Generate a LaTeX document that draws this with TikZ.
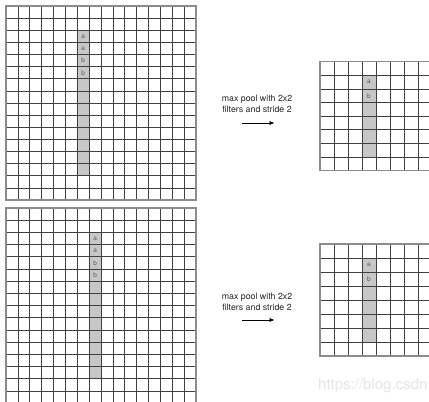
\documentclass[tikz,border=0pt]{standalone}
\usepackage{fontspec}
\setmainfont{TeX Gyre Heros}
\usetikzlibrary{arrows.meta}
\tikzset{
  gridline/.style={draw=black!75, line width=0.7pt},
  gridborder/.style={draw=black!45, line width=1.4pt},
  shadecell/.style={fill=black!22, draw=none},
  celllabel/.style={font=\fontsize{6.5}{7}\selectfont, text=black!65, inner sep=0pt},
  caption/.style={font=\fontsize{8.8}{11.5}\selectfont, align=center, text=black!85, inner sep=0pt},
  poolarrow/.style={draw=black, line width=0.7pt, -{Triangle[length=4.5pt,width=3.8pt]}},
  watermark/.style={font=\fontsize{15}{16}\selectfont, text=black!10, inner sep=0pt, anchor=west}
}
% #1 x0, #2 y0, #3 cell width, #4 cell height, #5 columns, #6 rows
\newcommand{\mygrid}[6]{%
  \foreach \i in {0,...,#5} \draw[gridline] ({#1+\i*#3},#2) -- ({#1+\i*#3},{#2+#6*#4});
  \foreach \j in {0,...,#6} \draw[gridline] (#1,{#2+\j*#4}) -- ({#1+#5*#3},{#2+\j*#4});
  \draw[gridborder] (#1,#2) rectangle ({#1+#5*#3},{#2+#6*#4});
}
\begin{document}
\begin{tikzpicture}[x=1pt,y=-1pt]
\useasboundingbox (0,0) rectangle (429,402);
\clip (0,0) rectangle (429,402);
\fill[white] (0,0) rectangle (429,402);

% ---------- top-left 16x16 input ----------
\fill[shadecell] ({6+6*11.875},{6+2*12.125}) rectangle ({6+7*11.875},{6+14*12.125});
\mygrid{6}{6}{11.875}{12.125}{16}{16}
\node[celllabel] (tla1) at ({6+6.5*11.875},{6+2.5*12.125}) {a};
\node[celllabel] (tla2) at ({6+6.5*11.875},{6+3.5*12.125}) {a};
\node[celllabel] (tlb1) at ({6+6.5*11.875},{6+4.5*12.125}) {b};
\node[celllabel] (tlb2) at ({6+6.5*11.875},{6+5.5*12.125}) {b};

% ---------- bottom-left 16x16 input ----------
\fill[shadecell] ({6+7*11.875},{208+2*12.2}) rectangle ({6+8*11.875},{208+14*12.2});
\mygrid{6}{208}{11.875}{12.2}{16}{16}
\node[celllabel] (bla1) at ({6+7.5*11.875},{208+2.5*12.2}) {a};
\node[celllabel] (bla2) at ({6+7.5*11.875},{208+3.5*12.2}) {a};
\node[celllabel] (blb1) at ({6+7.5*11.875},{208+4.5*12.2}) {b};
\node[celllabel] (blb2) at ({6+7.5*11.875},{208+5.5*12.2}) {b};

% ---------- top-right 8x8 output ----------
\fill[shadecell] ({320+3*14},{61.7+1*13.6}) rectangle ({320+4*14},{61.7+7*13.6});
\mygrid{320}{61.7}{14}{13.6}{8}{8}
\node[celllabel] (tra) at ({320+3.5*14},{61.7+1.5*13.6}) {a};
\node[celllabel] (trb) at ({320+3.5*14},{61.7+2.5*13.6}) {b};

% ---------- bottom-right 8x8 output ----------
\fill[shadecell] ({320+3*14},{244+1*14}) rectangle ({320+4*14},{244+7*14});
\mygrid{320}{244}{14}{14}{8}{8}
\node[celllabel] (bra) at ({320+3.5*14},{244+1.5*14}) {a};
\node[celllabel] (brb) at ({320+3.5*14},{244+2.5*14}) {b};

% ---------- captions and arrows ----------
\node[caption] (cap1) at (257,104) {max pool with 2x2\\filters and stride 2};
\coordinate (arr1s) at (242,123);
\coordinate (arr1e) at (274,123);
\draw[poolarrow] (arr1s) -- (arr1e);

\node[caption] (cap2) at (257,302) {max pool with 2x2\\filters and stride 2};
\coordinate (arr2s) at (242,320);
\coordinate (arr2e) at (274,320);
\draw[poolarrow] (arr2s) -- (arr2e);

% ---------- watermark ----------
\node[watermark] (wm) at (318,386) {https://blog.csdn};
\end{tikzpicture}
\end{document}
